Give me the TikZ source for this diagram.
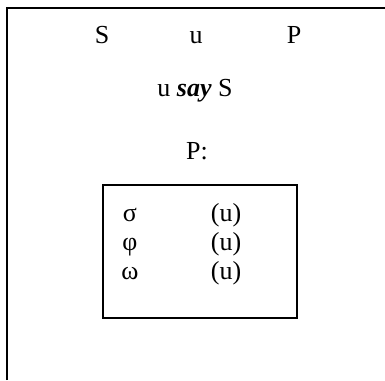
\documentclass[tikz,border=0pt]{standalone}
\usepackage{fontspec}
\setmainfont{Liberation Serif}
\usepackage{xcolor}
\usepackage{tikz}

\begin{document}
\begin{tikzpicture}[x=0.75pt, y=-0.75pt, every node/.style={font=\fontsize{19.5}{21}\selectfont, inner sep=0pt, anchor=base}]
    \useasboundingbox (0,0) rectangle (385,380);
    \draw[line width=1.8pt] (7,380) -- (7,8) -- (385,8);
    \node (subj) at (102,43) {S};
    \node (user) at (196,43) {u};
    \node (pred) at (294,43) {P};
    \node (says) at (195,96) {u \textbf{\textit{say}} S};
    \node (plabel) at (197,159) {P:};
    \draw[line width=1.5pt] (103,185) rectangle (297,318);
    \node (sigma) at (130,221) {σ};
    \node (phi) at (130,250) {φ};
    \node (omega) at (130,279) {ω};
    \node (usigma) at (226,221) {(u)};
    \node (uphi) at (226,250) {(u)};
    \node (uomega) at (226,279) {(u)};
\end{tikzpicture}
\end{document}
